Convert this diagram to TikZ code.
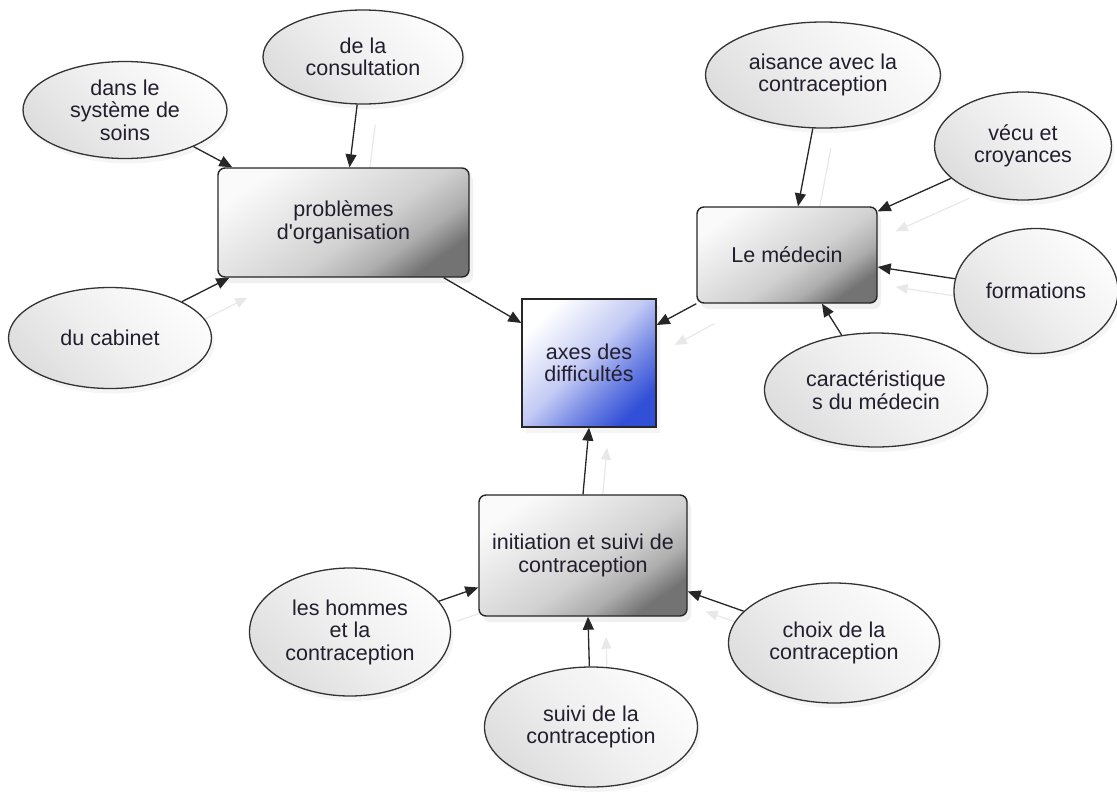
\documentclass[tikz,border=0pt]{standalone}
\usepackage{fontspec}
\setmainfont{Liberation Sans}[Ligatures=TeXOff]
\usetikzlibrary{arrows.meta,shapes.geometric,shadows}
\definecolor{axblue}{RGB}{50,80,215}
\definecolor{axmid}{RGB}{195,202,244}
\definecolor{txt}{RGB}{35,30,45}
\pgfdeclareverticalshading{boxshade}{100bp}{color(0bp)=(black!55); color(25bp)=(black!55); color(34bp)=(black!32); color(45bp)=(black!18); color(60bp)=(black!10); color(75bp)=(black!2); color(100bp)=(black!2)}
\pgfdeclareverticalshading{axshade}{100bp}{color(0bp)=(axblue); color(25bp)=(axblue); color(38bp)=(axblue!55!axmid); color(52bp)=(axmid); color(75bp)=(white); color(100bp)=(white)}
\pgfdeclareverticalshading{ovalshade}{100bp}{color(0bp)=(black!13); color(25bp)=(black!13); color(50bp)=(black!6); color(75bp)=(black!1); color(100bp)=(black!1)}
\pgfdeclarelayer{bg}
\pgfsetlayers{bg,main}
\begin{document}
\begin{tikzpicture}[x=1pt,y=-1pt,
  every node/.style={font=\fontsize{21.5}{22.5}\selectfont, text=txt, align=center, inner sep=0pt},
  oval/.style={ellipse, draw=black!80, line width=1.3pt, shading=ovalshade, shading angle=-45,
    drop shadow={shadow xshift=3pt, shadow yshift=-5pt, opacity=0.08}},
  box/.style={rectangle, rounded corners=7pt, draw=black!85, line width=1.4pt, shading=boxshade, shading angle=35,
    drop shadow={shadow xshift=4pt, shadow yshift=-6pt, opacity=0.12}},
  centerbox/.style={rectangle, draw=black!85, line width=1.4pt, shading=axshade, shading angle=45,
    drop shadow={shadow xshift=4pt, shadow yshift=-6pt, opacity=0.08}},
  arr/.style={-{Triangle[length=13pt,width=11pt]}, line width=1.3pt, draw=black!85, fill=black!85},
  ghost/.style={-{Triangle[length=12pt,width=10pt]}, line width=1.2pt, draw=black!9, fill=black!9,
    transform canvas={shift={(18pt,-20pt)}}}
]
\useasboundingbox (0,0) rectangle (1117,796);

% ellipses
\node[oval, minimum width=204pt, minimum height=97pt] (soins) at (125,110) {dans le\\système de\\soins};
\node[oval, minimum width=200pt, minimum height=94pt] (consult) at (363,57) {de la\\consultation};
\node[oval, minimum width=203pt, minimum height=101pt] (cabinet) at (110,338) {du cabinet};
\node[oval, minimum width=235pt, minimum height=106pt] (aisance) at (823,75) {aisance avec la\\contraception};
\node[oval, minimum width=177pt, minimum height=108pt] (vecu) at (1023,146) {vécu et\\croyances};
\node[oval, minimum width=164pt, minimum height=125pt] (form) at (1036,291) {formations};
\node[oval, minimum width=223pt, minimum height=114pt] (carac) at (876,390) {caractéristique\\s du médecin};
\node[oval, minimum width=201pt, minimum height=128pt] (hommes) at (350,632) {les hommes\\et la\\contraception};
\node[oval, minimum width=213pt, minimum height=120pt] (suivi) at (591,727) {suivi de la\\contraception};
\node[oval, minimum width=211pt, minimum height=120pt] (choix) at (834,643) {choix de la\\contraception};

% boxes
\node[box, minimum width=251pt, minimum height=109pt] (prob) at (343.5,222.5) {problèmes\\d'organisation};
\node[box, minimum width=180pt, minimum height=96pt] (med) at (787,255) {Le médecin};
\node[box, minimum width=208pt, minimum height=121pt] (init) at (583,555.5) {initiation et suivi de\\contraception};
\node[centerbox, minimum width=134pt, minimum height=128pt] (axes) at (589,363) {axes des\\difficultés};

% faint reflected connectors
\begin{pgfonlayer}{bg}
\draw[ghost] (consult) -- ([xshift=6pt]prob.north);
\draw[ghost] (cabinet) -- ([xshift=12pt]prob.south west);
\draw[ghost] (aisance) -- ([xshift=11pt]med.north);
\draw[ghost] (vecu) -- ([yshift=-5pt]med.north east);
\draw[ghost] (form) -- ([yshift=-12pt]med.east);
\draw[ghost] (med.south west) -- ([yshift=38pt]axes.east);
\draw[ghost] (init.north) -- (axes.south);
\draw[ghost] (hommes) -- ([yshift=-32pt]init.west);
\draw[ghost] (suivi) -- ([xshift=5pt]init.south);
\draw[ghost] (choix) -- ([yshift=-36pt]init.east);
\end{pgfonlayer}

% connectors
\draw[arr] (soins) -- ([xshift=15pt]prob.north west);
\draw[arr] (consult) -- ([xshift=6pt]prob.north);
\draw[arr] (cabinet) -- ([xshift=12pt]prob.south west);
\draw[arr] ([xshift=-26pt]prob.south east) -- ([yshift=40pt]axes.west);
\draw[arr] (med.south west) -- ([yshift=38pt]axes.east);
\draw[arr] (init.north) -- (axes.south);
\draw[arr] (aisance) -- ([xshift=11pt]med.north);
\draw[arr] (vecu) -- ([yshift=-5pt]med.north east);
\draw[arr] (form) -- ([yshift=-12pt]med.east);
\draw[arr] (carac) -- ([xshift=35pt]med.south);
\draw[arr] (hommes) -- ([yshift=-32pt]init.west);
\draw[arr] (suivi) -- ([xshift=5pt]init.south);
\draw[arr] (choix) -- ([yshift=-36pt]init.east);
\end{tikzpicture}
\end{document}
